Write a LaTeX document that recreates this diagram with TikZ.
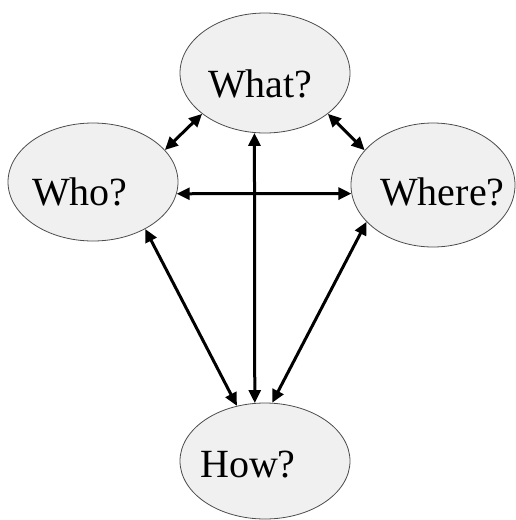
\documentclass[tikz,border=0pt]{standalone}
\usepackage{fontspec}
\setmainfont{Liberation Serif}
\usetikzlibrary{shapes.geometric,arrows.meta}
\tikzset{
  bubble/.style={ellipse, draw=black!70, line width=0.8pt, fill=black!6,
                 inner sep=0pt, minimum width=170pt, minimum height=120pt},
  word/.style={anchor=base west, inner sep=0pt,
               font=\fontsize{40}{48}\selectfont},
  link/.style={line width=3pt,
               {Triangle[length=13pt,width=12pt]}-{Triangle[length=13pt,width=12pt]}}
}
\begin{document}
\begin{tikzpicture}[x=1pt,y=-1pt]
  \useasboundingbox (0,0) rectangle (516,520);
  % the four questions
  \node[bubble] (what)  at (265,73) {};
  \node[bubble, minimum height=118pt] (who)   at (93,182) {};
  \node[bubble, minimum width=164pt, minimum height=124pt] (where) at (433,185) {};
  \node[bubble, minimum height=116pt] (how)   at (265,461) {};
  \node[word] (whatt)  at (208,97)  {What?};
  \node[word] (whot)   at (32,205)  {Who?};
  \node[word] (wheret) at (380,205) {Where?};
  \node[word] (howt)   at (200,477) {How?};
  % links between them
  \draw[link] (who.24)    -- (what.213);
  \draw[link] (what.-33)  -- (where.153);
  \draw[link] (who.-8)    -- (where.186);
  \draw[link] (what.260)  -- (how.100);
  \draw[link] (who.-42)   -- (how.117);
  \draw[link] (where.209) -- (how.83);
\end{tikzpicture}
\end{document}
